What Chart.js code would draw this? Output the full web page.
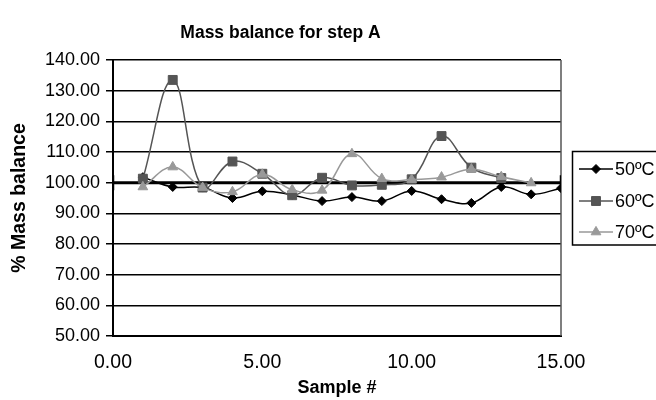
<!DOCTYPE html>
<html>
<head>
<meta charset="utf-8">
<script src="https://cdn.jsdelivr.net/npm/chart.js@4/dist/chart.umd.min.js"></script>
<style>
  html, body { margin: 0; padding: 0; background: #fff; }
  #wrap { width: 656px; height: 400px; }
</style>
</head>
<body>
<div id="wrap"><canvas id="myChart" width="656" height="400"></canvas></div>
<script>
// Mass balance per sample, step A
const seriesNames = ['50ºC', '60ºC', '70ºC'];
const samples50 = [1, 2, 3, 4, 5, 6, 7, 8, 9, 10, 11, 12, 13, 14, 15];
const balance50 = [101.8, 98.6, 98.4, 95.0, 97.2, 96.0, 94.0, 95.3, 94.0, 97.3, 94.6, 93.4, 98.6, 96.2, 98.2];
const samples60 = [1, 2, 3, 4, 5, 6, 7, 8, 9, 10, 11, 12, 13];
const balance60 = [101.3, 133.5, 98.4, 106.9, 102.9, 95.9, 101.6, 99.1, 99.3, 101.1, 115.2, 104.9, 101.5];
const samples70 = [1, 2, 3, 4, 5, 6, 7, 8, 9, 10, 11, 12, 13, 14];
const balance70 = [98.6, 105.1, 98.4, 97.0, 102.7, 97.7, 97.5, 109.4, 101.3, 101.0, 101.8, 104.4, 101.9, 99.9];
// 100 % reference line
const refX = [0, 15];
const refY = [100, 100];
const xTicks = [0, 5, 10, 15];
const yTicks = [50, 60, 70, 80, 90, 100, 110, 120, 130, 140];

const FONT = "'Liberation Sans', Arial, sans-serif";

function toPoints(xs, ys) {
  return xs.map((x, i) => ({ x: x, y: ys[i] }));
}

const seriesStyles = [
  { color: '#000000', pointStyle: 'rectRot', radius: 4.5 },
  { color: '#555555', pointStyle: 'rect', radius: 6.3 },
  { color: '#999999', pointStyle: 'triangle', radius: 5.6 }
];
const seriesData = [
  toPoints(samples50, balance50),
  toPoints(samples60, balance60),
  toPoints(samples70, balance70)
];

const datasets = seriesNames.map((name, i) => ({
  label: name,
  data: seriesData[i],
  borderColor: seriesStyles[i].color,
  backgroundColor: seriesStyles[i].color,
  pointStyle: seriesStyles[i].pointStyle,
  pointRadius: seriesStyles[i].radius,
  pointBorderWidth: 1,
  borderWidth: 1.5,
  tension: 0.4,
  showLine: true,
  order: 2 - i
}));

datasets.push({
  label: 'ref',
  data: toPoints(refX, refY),
  borderColor: '#000000',
  backgroundColor: '#000000',
  borderWidth: 3,
  pointStyle: 'line',
  pointRotation: 90,
  pointRadius: 7.5,
  pointBorderWidth: 2.5,
  showLine: true,
  order: 10
});

// Right frame edge and boxed legend
const framePlugin = {
  id: 'frame',
  beforeDatasetsDraw(chart) {
    const { ctx, chartArea } = chart;
    ctx.save();
    ctx.strokeStyle = '#555555';
    ctx.lineWidth = 1.5;
    ctx.beginPath();
    ctx.moveTo(chartArea.right, chartArea.top);
    ctx.lineTo(chartArea.right, chartArea.bottom);
    ctx.stroke();
    ctx.restore();
  },
  afterDraw(chart) {
    const ctx = chart.ctx;
    ctx.save();
    ctx.strokeStyle = '#000000';
    ctx.lineWidth = 1.5;
    ctx.strokeRect(572.5, 151.5, 100, 93.5);
    const rows = [169, 201, 232];
    seriesNames.forEach((name, i) => {
      const st = seriesStyles[i];
      const y = rows[i];
      ctx.strokeStyle = st.color;
      ctx.fillStyle = st.color;
      ctx.lineWidth = 1.5;
      ctx.beginPath();
      ctx.moveTo(579, y);
      ctx.lineTo(613, y);
      ctx.stroke();
      if (Chart.helpers && Chart.helpers.drawPoint) {
        ctx.lineWidth = 1;
        Chart.helpers.drawPoint(ctx, { pointStyle: st.pointStyle, radius: st.radius, rotation: 0, borderWidth: 1 }, 596, y);
      }
      ctx.fillStyle = '#000000';
      ctx.font = '18px ' + FONT;
      ctx.textAlign = 'left';
      ctx.textBaseline = 'middle';
      ctx.fillText(name, 615, y + 1);
    });
    ctx.restore();
  }
};

const ctx = document.getElementById('myChart').getContext('2d');
new Chart(ctx, {
  type: 'scatter',
  data: { datasets: datasets },
  plugins: [framePlugin],
  options: {
    responsive: false,
    animation: false,
    layout: { padding: { left: 0, right: 95, top: 0, bottom: 0 } },
    plugins: {
      legend: { display: false },
      tooltip: { enabled: false },
      title: {
        display: true,
        text: 'Mass balance for step A',
        color: '#000000',
        font: { family: FONT, size: 17.5, weight: 'bold' },
        padding: { top: 22.5, bottom: 16.5 }
      }
    },
    scales: {
      x: {
        type: 'linear',
        min: 0,
        max: 15,
        afterFit(scale) { scale.height = 64; },
        afterBuildTicks(scale) { scale.ticks = xTicks.map(v => ({ value: v })); },
        ticks: {
          color: '#000000',
          font: { family: FONT, size: 19.5 },
          maxRotation: 0,
          padding: 15,
          callback: v => Number(v).toFixed(2)
        },
        grid: { display: false, drawTicks: false },
        border: { display: true, color: '#000000', width: 2 },
        title: {
          display: true,
          text: 'Sample #',
          color: '#000000',
          font: { family: FONT, size: 18, weight: 'bold' },
          padding: { top: 0, bottom: 1 }
        }
      },
      y: {
        type: 'linear',
        min: 50,
        max: 140,
        afterFit(scale) { scale.width = 113; },
        afterBuildTicks(scale) { scale.ticks = yTicks.map(v => ({ value: v })); },
        ticks: {
          color: '#000000',
          font: { family: FONT, size: 18 },
          padding: 6,
          callback: v => Number(v).toFixed(2)
        },
        grid: { color: '#000000', lineWidth: 1.5, tickLength: 7 },
        border: { display: true, color: '#000000', width: 2 },
        title: {
          display: true,
          text: '% Mass balance',
          color: '#000000',
          font: { family: FONT, size: 19.5, weight: 'bold' },
          padding: { top: 8, bottom: 0 }
        }
      }
    }
  }
});
</script>
</body>
</html>
